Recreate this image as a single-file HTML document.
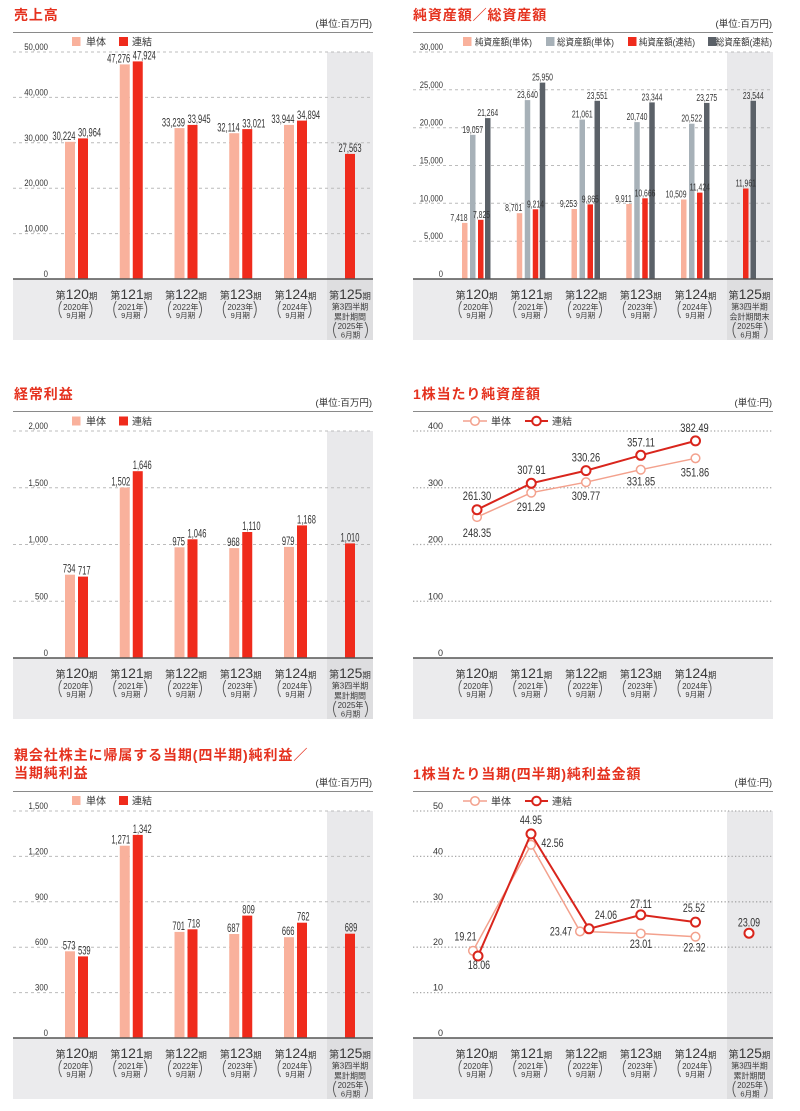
<!DOCTYPE html>
<html><head><meta charset="utf-8"><style>
html,body{margin:0;padding:0;background:#fff}
svg{display:block}
text{font-family:"Liberation Sans","Noto Sans CJK JP",sans-serif}
.ttl{font-size:14px;font-weight:bold;fill:#e5321f;letter-spacing:.9px}
.unit{font-size:9.5px;fill:#333;text-anchor:end}
.lg{font-size:10px;fill:#333}
.lg2{font-size:9.5px;fill:#333}
.tk{font-size:9.5px;fill:#333;text-anchor:end}
.v{font-size:12px;fill:#333}
.v2{font-size:10.5px;fill:#333}
.lv{font-size:11.5px;fill:#333;text-anchor:middle}
.cat{fill:#3a3a3a;text-anchor:middle}
.cs{font-size:8px;fill:#3a3a3a;text-anchor:middle}
.cs2{font-size:7.5px;fill:#3a3a3a;text-anchor:middle}
.par{fill:none;stroke:#555;stroke-width:.9}
.gd line{stroke:#bcbcbc;stroke-width:1;stroke-dasharray:3 3}
.gdot line{stroke:#a8a8a8;stroke-width:1.3;stroke-dasharray:1.3 2.2}
.ax{stroke:#555;stroke-width:1.5}
.rule{stroke:#8a8a8a;stroke-width:1}
.c1{fill:#f9b19c}.c2{fill:#ef2b1c}.c3{fill:#a7b1b8}.c4{fill:#5b6168}
.l1{fill:none;stroke:#f3a18d;stroke-width:1.5}
.l2{fill:none;stroke:#d9251c;stroke-width:2}
.m1{fill:#fff;stroke:#f3a18d;stroke-width:1.5}
.m2{fill:#fff;stroke:#d9251c;stroke-width:2}
</style></head><body>
<svg width="800" height="1111" viewBox="0 0 800 1111" xmlns="http://www.w3.org/2000/svg">

<!-- ================= CHART 1 ================= -->
<text class="ttl" x="14" y="20">売上高</text>
<text class="unit" x="372" y="27">(単位:百万円)</text>
<line class="rule" x1="13" y1="32.5" x2="373" y2="32.5"/>
<rect class="c1" x="72" y="37" width="8.5" height="9"/><text class="lg" x="86" y="45.5">単体</text>
<rect class="c2" x="119" y="37" width="9" height="9"/><text class="lg" x="132" y="45.5">連結</text>
<rect x="327" y="52" width="46" height="227" fill="#e9e9eb"/>
<rect x="13" y="279" width="314" height="61" fill="#ebebed"/>
<rect x="327" y="279" width="46" height="61" fill="#dedee0"/>
<g class="gd">
<line x1="13" y1="52" x2="373" y2="52"/><line x1="13" y1="97.4" x2="373" y2="97.4"/><line x1="13" y1="142.8" x2="373" y2="142.8"/><line x1="13" y1="188.2" x2="373" y2="188.2"/><line x1="13" y1="233.6" x2="373" y2="233.6"/>
</g>
<text class="tk" transform="translate(48 50) scale(.82 1)">50,000</text>
<text class="tk" transform="translate(48 95.4) scale(.82 1)">40,000</text>
<text class="tk" transform="translate(48 140.8) scale(.82 1)">30,000</text>
<text class="tk" transform="translate(48 186.2) scale(.82 1)">20,000</text>
<text class="tk" transform="translate(48 231.6) scale(.82 1)">10,000</text>
<text class="tk" transform="translate(48 277) scale(.82 1)">0</text>
<rect class="c1" x="65" y="141.8" width="10" height="137.2"/><rect class="c2" x="78" y="138.4" width="10" height="140.6"/>
<rect class="c1" x="119.75" y="64.4" width="10" height="214.6"/><rect class="c2" x="132.75" y="61.4" width="10" height="217.6"/>
<rect class="c1" x="174.5" y="128.1" width="10" height="150.9"/><rect class="c2" x="187.5" y="124.9" width="10" height="154.1"/>
<rect class="c1" x="229.25" y="133.2" width="10" height="145.8"/><rect class="c2" x="242.25" y="129.1" width="10" height="149.9"/>
<rect class="c1" x="284" y="124.9" width="10" height="154.1"/><rect class="c2" x="297" y="120.6" width="10" height="158.4"/>
<rect class="c2" x="345" y="153.9" width="10" height="125.1"/>
<text class="v" text-anchor="end" transform="translate(75.5 140) scale(.63 1)">30,224</text>
<text class="v" transform="translate(78 136.6) scale(.63 1)">30,964</text>
<text class="v" text-anchor="end" transform="translate(130.25 62.4) scale(.63 1)">47,276</text>
<text class="v" transform="translate(132.75 59.4) scale(.63 1)">47,924</text>
<text class="v" text-anchor="end" transform="translate(185 126.3) scale(.63 1)">33,239</text>
<text class="v" transform="translate(187.5 123.1) scale(.63 1)">33,945</text>
<text class="v" text-anchor="end" transform="translate(239.75 131.4) scale(.63 1)">32,114</text>
<text class="v" transform="translate(242.25 127.3) scale(.63 1)">33,021</text>
<text class="v" text-anchor="end" transform="translate(294.5 123.1) scale(.63 1)">33,944</text>
<text class="v" transform="translate(297 118.8) scale(.63 1)">34,894</text>
<text class="v" text-anchor="middle" transform="translate(350 152.1) scale(.63 1)">27,563</text>
<line class="ax" x1="13" y1="279" x2="373" y2="279"/>

<!-- categories chart1 -->
<g>
<text class="cat" x="76.5" y="299"><tspan font-size="10">第</tspan><tspan font-size="14">120</tspan><tspan font-size="8.5">期</tspan></text><text class="cs" x="76" y="310">2020年</text><text class="cs2" x="76" y="318">9月期</text><path class="par" d="M61.5 301Q56.5 309.5 61.5 318M89.5 301Q94.5 309.5 89.5 318"/>
<text class="cat" x="131.25" y="299"><tspan font-size="10">第</tspan><tspan font-size="14">121</tspan><tspan font-size="8.5">期</tspan></text><text class="cs" x="130.75" y="310">2021年</text><text class="cs2" x="130.75" y="318">9月期</text><path class="par" d="M116.25 301Q111.25 309.5 116.25 318M144.25 301Q149.25 309.5 144.25 318"/>
<text class="cat" x="186" y="299"><tspan font-size="10">第</tspan><tspan font-size="14">122</tspan><tspan font-size="8.5">期</tspan></text><text class="cs" x="185.5" y="310">2022年</text><text class="cs2" x="185.5" y="318">9月期</text><path class="par" d="M171 301Q166 309.5 171 318M199 301Q204 309.5 199 318"/>
<text class="cat" x="240.75" y="299"><tspan font-size="10">第</tspan><tspan font-size="14">123</tspan><tspan font-size="8.5">期</tspan></text><text class="cs" x="240.25" y="310">2023年</text><text class="cs2" x="240.25" y="318">9月期</text><path class="par" d="M225.75 301Q220.75 309.5 225.75 318M253.75 301Q258.75 309.5 253.75 318"/>
<text class="cat" x="295.5" y="299"><tspan font-size="10">第</tspan><tspan font-size="14">124</tspan><tspan font-size="8.5">期</tspan></text><text class="cs" x="295" y="310">2024年</text><text class="cs2" x="295" y="318">9月期</text><path class="par" d="M280.5 301Q275.5 309.5 280.5 318M308.5 301Q313.5 309.5 308.5 318"/>
<text class="cat" x="350" y="299"><tspan font-size="10">第</tspan><tspan font-size="14">125</tspan><tspan font-size="8.5">期</tspan></text>
<text class="cs" x="350" y="309.5">第3四半期</text><text class="cs" x="350" y="319.5">累計期間</text><text class="cs" x="350.5" y="329">2025年</text><text class="cs2" x="350.5" y="337.5">6月期</text>
<path class="par" d="M336 322Q331 330 336 338M365 322Q370 330 365 338"/>
</g>

<!-- ================= CHART 2 ================= -->
<text class="ttl" x="413" y="20">純資産額／総資産額</text>
<text class="unit" x="772" y="27">(単位:百万円)</text>
<line class="rule" x1="413" y1="32.5" x2="773" y2="32.5"/>
<rect class="c1" x="463" y="37" width="8.5" height="9"/><text class="lg2" x="475" y="45.5" textLength="57" lengthAdjust="spacingAndGlyphs">純資産額(単体)</text>
<rect class="c3" x="546" y="37" width="8.5" height="9"/><text class="lg2" x="557" y="45.5" textLength="57" lengthAdjust="spacingAndGlyphs">総資産額(単体)</text>
<rect class="c2" x="628" y="37" width="8.5" height="9"/><text class="lg2" x="639" y="45.5" textLength="56" lengthAdjust="spacingAndGlyphs">純資産額(連結)</text>
<rect class="c4" x="708" y="37" width="8.5" height="9"/><text class="lg2" x="716" y="45.5" textLength="56" lengthAdjust="spacingAndGlyphs">総資産額(連結)</text>
<rect x="727" y="52" width="46" height="227" fill="#e9e9eb"/>
<rect x="413" y="279" width="314" height="61" fill="#ebebed"/>
<rect x="727" y="279" width="46" height="61" fill="#dedee0"/>
<g class="gd">
<line x1="413" y1="52" x2="773" y2="52"/><line x1="413" y1="89.8" x2="773" y2="89.8"/><line x1="413" y1="127.7" x2="773" y2="127.7"/><line x1="413" y1="165.5" x2="773" y2="165.5"/><line x1="413" y1="203.3" x2="773" y2="203.3"/><line x1="413" y1="241.2" x2="773" y2="241.2"/>
</g>
<text class="tk" transform="translate(443 50) scale(.8 1)">30,000</text>
<text class="tk" transform="translate(443 87.8) scale(.8 1)">25,000</text>
<text class="tk" transform="translate(443 125.7) scale(.8 1)">20,000</text>
<text class="tk" transform="translate(443 163.5) scale(.8 1)">15,000</text>
<text class="tk" transform="translate(443 201.3) scale(.8 1)">10,000</text>
<text class="tk" transform="translate(443 239.2) scale(.8 1)">5,000</text>
<text class="tk" transform="translate(443 277) scale(.8 1)">0</text>
<!-- g1 -->
<rect class="c1" x="462" y="222.9" width="5.5" height="56.1"/><rect class="c3" x="470" y="134.8" width="5.5" height="144.2"/><rect class="c2" x="478" y="219.8" width="5.5" height="59.2"/><rect class="c4" x="485" y="118.1" width="5.5" height="160.9"/>
<!-- g2 -->
<rect class="c1" x="516.75" y="213.2" width="5.5" height="65.8"/><rect class="c3" x="524.75" y="100.1" width="5.5" height="178.9"/><rect class="c2" x="532.75" y="209.3" width="5.5" height="69.7"/><rect class="c4" x="539.75" y="82.6" width="5.5" height="196.4"/>
<!-- g3 -->
<rect class="c1" x="571.5" y="209" width="5.5" height="70"/><rect class="c3" x="579.5" y="119.6" width="5.5" height="159.4"/><rect class="c2" x="587.5" y="204.4" width="5.5" height="74.6"/><rect class="c4" x="594.5" y="100.8" width="5.5" height="178.2"/>
<!-- g4 -->
<rect class="c1" x="626.25" y="204" width="5.5" height="75"/><rect class="c3" x="634.25" y="122.1" width="5.5" height="156.9"/><rect class="c2" x="642.25" y="198.3" width="5.5" height="80.7"/><rect class="c4" x="649.25" y="102.4" width="5.5" height="176.6"/>
<!-- g5 -->
<rect class="c1" x="681" y="199.5" width="5.5" height="79.5"/><rect class="c3" x="689" y="123.7" width="5.5" height="155.3"/><rect class="c2" x="697" y="192.6" width="5.5" height="86.4"/><rect class="c4" x="704" y="102.9" width="5.5" height="176.1"/>
<!-- g6 -->
<rect class="c2" x="743" y="188.5" width="5.5" height="90.5"/><rect class="c4" x="750.5" y="100.8" width="5.5" height="178.2"/>
<!-- labels -->
<text class="v2" text-anchor="end" transform="translate(467.5 220.9) scale(.65 1)">7,418</text>
<text class="v2" text-anchor="end" transform="translate(522.25 211.2) scale(.65 1)">8,701</text>
<text class="v2" text-anchor="end" transform="translate(577 207) scale(.65 1)">9,253</text>
<text class="v2" text-anchor="end" transform="translate(631.75 202) scale(.65 1)">9,911</text>
<text class="v2" text-anchor="end" transform="translate(686.5 197.5) scale(.65 1)">10,509</text>
<text class="v2" text-anchor="middle" transform="translate(472.75 132.8) scale(.65 1)">19,057</text>
<text class="v2" text-anchor="middle" transform="translate(527.5 98.1) scale(.65 1)">23,640</text>
<text class="v2" text-anchor="middle" transform="translate(582.25 117.6) scale(.65 1)">21,061</text>
<text class="v2" text-anchor="middle" transform="translate(637 120.1) scale(.65 1)">20,740</text>
<text class="v2" text-anchor="middle" transform="translate(691.75 121.7) scale(.65 1)">20,522</text>
<text class="v2" text-anchor="middle" transform="translate(481.5 217.8) scale(.65 1)">7,825</text>
<text class="v2" text-anchor="middle" transform="translate(535.5 207.3) scale(.65 1)">9,214</text>
<text class="v2" text-anchor="middle" transform="translate(590.25 202.4) scale(.65 1)">9,865</text>
<text class="v2" text-anchor="middle" transform="translate(645 196.3) scale(.65 1)">10,666</text>
<text class="v2" text-anchor="middle" transform="translate(699.75 190.6) scale(.65 1)">11,424</text>
<text class="v2" text-anchor="middle" transform="translate(745.75 186.5) scale(.65 1)">11,961</text>
<text class="v2" text-anchor="middle" transform="translate(487.75 116.1) scale(.65 1)">21,264</text>
<text class="v2" text-anchor="middle" transform="translate(542.5 80.6) scale(.65 1)">25,950</text>
<text class="v2" text-anchor="middle" transform="translate(597.25 98.8) scale(.65 1)">23,551</text>
<text class="v2" text-anchor="middle" transform="translate(652 100.4) scale(.65 1)">23,344</text>
<text class="v2" text-anchor="middle" transform="translate(706.75 100.9) scale(.65 1)">23,275</text>
<text class="v2" text-anchor="middle" transform="translate(753.25 98.8) scale(.65 1)">23,544</text>
<line class="ax" x1="413" y1="279" x2="773" y2="279"/>
<!-- categories chart2 -->
<g transform="translate(400 0)">
<text class="cat" x="76.5" y="299"><tspan font-size="10">第</tspan><tspan font-size="14">120</tspan><tspan font-size="8.5">期</tspan></text><text class="cs" x="76" y="310">2020年</text><text class="cs2" x="76" y="318">9月期</text><path class="par" d="M61.5 301Q56.5 309.5 61.5 318M89.5 301Q94.5 309.5 89.5 318"/>
<text class="cat" x="131.25" y="299"><tspan font-size="10">第</tspan><tspan font-size="14">121</tspan><tspan font-size="8.5">期</tspan></text><text class="cs" x="130.75" y="310">2021年</text><text class="cs2" x="130.75" y="318">9月期</text><path class="par" d="M116.25 301Q111.25 309.5 116.25 318M144.25 301Q149.25 309.5 144.25 318"/>
<text class="cat" x="186" y="299"><tspan font-size="10">第</tspan><tspan font-size="14">122</tspan><tspan font-size="8.5">期</tspan></text><text class="cs" x="185.5" y="310">2022年</text><text class="cs2" x="185.5" y="318">9月期</text><path class="par" d="M171 301Q166 309.5 171 318M199 301Q204 309.5 199 318"/>
<text class="cat" x="240.75" y="299"><tspan font-size="10">第</tspan><tspan font-size="14">123</tspan><tspan font-size="8.5">期</tspan></text><text class="cs" x="240.25" y="310">2023年</text><text class="cs2" x="240.25" y="318">9月期</text><path class="par" d="M225.75 301Q220.75 309.5 225.75 318M253.75 301Q258.75 309.5 253.75 318"/>
<text class="cat" x="295.5" y="299"><tspan font-size="10">第</tspan><tspan font-size="14">124</tspan><tspan font-size="8.5">期</tspan></text><text class="cs" x="295" y="310">2024年</text><text class="cs2" x="295" y="318">9月期</text><path class="par" d="M280.5 301Q275.5 309.5 280.5 318M308.5 301Q313.5 309.5 308.5 318"/>
<text class="cat" x="349.5" y="299"><tspan font-size="10">第</tspan><tspan font-size="14">125</tspan><tspan font-size="8.5">期</tspan></text>
<text class="cs" x="349.5" y="309.5">第3四半期</text><text class="cs" x="349.5" y="319.5">会計期間末</text><text class="cs" x="350" y="329">2025年</text><text class="cs2" x="350" y="337.5">6月期</text>
<path class="par" d="M335.5 322Q330.5 330 335.5 338M364.5 322Q369.5 330 364.5 338"/>
</g>

<!-- ================= CHART 3 ================= -->
<text class="ttl" x="14" y="399">経常利益</text>
<text class="unit" x="372" y="406">(単位:百万円)</text>
<line class="rule" x1="13" y1="411.5" x2="373" y2="411.5"/>
<rect class="c1" x="72" y="416.5" width="8.5" height="9"/><text class="lg" x="86" y="425">単体</text>
<rect class="c2" x="119" y="416.5" width="9" height="9"/><text class="lg" x="132" y="425">連結</text>
<rect x="327" y="431" width="46" height="227" fill="#e9e9eb"/>
<rect x="13" y="658" width="314" height="61" fill="#ebebed"/>
<rect x="327" y="658" width="46" height="61" fill="#dedee0"/>
<g class="gd">
<line x1="13" y1="431" x2="373" y2="431"/><line x1="13" y1="487.75" x2="373" y2="487.75"/><line x1="13" y1="544.5" x2="373" y2="544.5"/><line x1="13" y1="601.25" x2="373" y2="601.25"/>
</g>
<text class="tk" transform="translate(48 429) scale(.82 1)">2,000</text>
<text class="tk" transform="translate(48 485.75) scale(.82 1)">1,500</text>
<text class="tk" transform="translate(48 542.5) scale(.82 1)">1,000</text>
<text class="tk" transform="translate(48 599.25) scale(.82 1)">500</text>
<text class="tk" transform="translate(48 656) scale(.82 1)">0</text>
<rect class="c1" x="65" y="574.7" width="10" height="83.3"/><rect class="c2" x="78" y="576.6" width="10" height="81.4"/>
<rect class="c1" x="119.75" y="487.5" width="10" height="170.5"/><rect class="c2" x="132.75" y="471.2" width="10" height="186.8"/>
<rect class="c1" x="174.5" y="547.3" width="10" height="110.7"/><rect class="c2" x="187.5" y="539.3" width="10" height="118.7"/>
<rect class="c1" x="229.25" y="548.1" width="10" height="109.9"/><rect class="c2" x="242.25" y="532" width="10" height="126"/>
<rect class="c1" x="284" y="546.9" width="10" height="111.1"/><rect class="c2" x="297" y="525.4" width="10" height="132.6"/>
<rect class="c2" x="345" y="543.4" width="10" height="114.6"/>
<text class="v" text-anchor="end" transform="translate(75.5 572.7) scale(.63 1)">734</text>
<text class="v" transform="translate(78 574.6) scale(.63 1)">717</text>
<text class="v" text-anchor="end" transform="translate(130.25 485.5) scale(.63 1)">1,502</text>
<text class="v" transform="translate(132.75 469.2) scale(.63 1)">1,646</text>
<text class="v" text-anchor="end" transform="translate(185 545.3) scale(.63 1)">975</text>
<text class="v" transform="translate(187.5 537.3) scale(.63 1)">1,046</text>
<text class="v" text-anchor="end" transform="translate(239.75 546.1) scale(.63 1)">968</text>
<text class="v" transform="translate(242.25 530) scale(.63 1)">1,110</text>
<text class="v" text-anchor="end" transform="translate(294.5 544.9) scale(.63 1)">979</text>
<text class="v" transform="translate(297 523.4) scale(.63 1)">1,168</text>
<text class="v" text-anchor="middle" transform="translate(350 541.4) scale(.63 1)">1,010</text>
<line class="ax" x1="13" y1="658" x2="373" y2="658"/>
<g transform="translate(0 379)">
<text class="cat" x="76.5" y="299"><tspan font-size="10">第</tspan><tspan font-size="14">120</tspan><tspan font-size="8.5">期</tspan></text><text class="cs" x="76" y="310">2020年</text><text class="cs2" x="76" y="318">9月期</text><path class="par" d="M61.5 301Q56.5 309.5 61.5 318M89.5 301Q94.5 309.5 89.5 318"/>
<text class="cat" x="131.25" y="299"><tspan font-size="10">第</tspan><tspan font-size="14">121</tspan><tspan font-size="8.5">期</tspan></text><text class="cs" x="130.75" y="310">2021年</text><text class="cs2" x="130.75" y="318">9月期</text><path class="par" d="M116.25 301Q111.25 309.5 116.25 318M144.25 301Q149.25 309.5 144.25 318"/>
<text class="cat" x="186" y="299"><tspan font-size="10">第</tspan><tspan font-size="14">122</tspan><tspan font-size="8.5">期</tspan></text><text class="cs" x="185.5" y="310">2022年</text><text class="cs2" x="185.5" y="318">9月期</text><path class="par" d="M171 301Q166 309.5 171 318M199 301Q204 309.5 199 318"/>
<text class="cat" x="240.75" y="299"><tspan font-size="10">第</tspan><tspan font-size="14">123</tspan><tspan font-size="8.5">期</tspan></text><text class="cs" x="240.25" y="310">2023年</text><text class="cs2" x="240.25" y="318">9月期</text><path class="par" d="M225.75 301Q220.75 309.5 225.75 318M253.75 301Q258.75 309.5 253.75 318"/>
<text class="cat" x="295.5" y="299"><tspan font-size="10">第</tspan><tspan font-size="14">124</tspan><tspan font-size="8.5">期</tspan></text><text class="cs" x="295" y="310">2024年</text><text class="cs2" x="295" y="318">9月期</text><path class="par" d="M280.5 301Q275.5 309.5 280.5 318M308.5 301Q313.5 309.5 308.5 318"/>
<text class="cat" x="350" y="299"><tspan font-size="10">第</tspan><tspan font-size="14">125</tspan><tspan font-size="8.5">期</tspan></text>
<text class="cs" x="350" y="309.5">第3四半期</text><text class="cs" x="350" y="319.5">累計期間</text><text class="cs" x="350.5" y="329">2025年</text><text class="cs2" x="350.5" y="337.5">6月期</text>
<path class="par" d="M336 322Q331 330 336 338M365 322Q370 330 365 338"/>
</g>

<!-- ================= CHART 4 ================= -->
<text class="ttl" x="413" y="399">1株当たり純資産額</text>
<text class="unit" x="772" y="406">(単位:円)</text>
<line class="rule" x1="413" y1="411.5" x2="773" y2="411.5"/>
<line class="l1" x1="463" y1="421" x2="487" y2="421"/><circle class="m1" cx="475" cy="421" r="4.3"/><text class="lg" x="491" y="425">単体</text>
<line class="l2" x1="525" y1="421" x2="548" y2="421"/><circle class="m2" cx="536.5" cy="421" r="4.3"/><text class="lg" x="552" y="425">連結</text>
<rect x="413" y="658" width="360" height="61" fill="#ebebed"/>
<g class="gdot">
<line x1="413" y1="431" x2="773" y2="431"/><line x1="413" y1="487.75" x2="773" y2="487.75"/><line x1="413" y1="544.5" x2="773" y2="544.5"/><line x1="413" y1="601.25" x2="773" y2="601.25"/>
</g>
<text class="tk" transform="translate(443 429) scale(.95 1)">400</text>
<text class="tk" transform="translate(443 485.75) scale(.95 1)">300</text>
<text class="tk" transform="translate(443 542.5) scale(.95 1)">200</text>
<text class="tk" transform="translate(443 599.25) scale(.95 1)">100</text>
<text class="tk" transform="translate(443 656) scale(.95 1)">0</text>
<polyline class="l1" points="477,517.1 531.25,492.7 586,482.2 640.75,469.7 695.5,458.3"/>
<circle class="m1" cx="477" cy="517.1" r="4.3"/><circle class="m1" cx="531.25" cy="492.7" r="4.3"/><circle class="m1" cx="586" cy="482.2" r="4.3"/><circle class="m1" cx="640.75" cy="469.7" r="4.3"/><circle class="m1" cx="695.5" cy="458.3" r="4.3"/>
<polyline class="l2" points="477,509.7 531.25,483.3 586,470.6 640.75,455.3 695.5,440.9"/>
<circle class="m2" cx="477" cy="509.7" r="4.5"/><circle class="m2" cx="531.25" cy="483.3" r="4.5"/><circle class="m2" cx="586" cy="470.6" r="4.5"/><circle class="m2" cx="640.75" cy="455.3" r="4.5"/><circle class="m2" cx="695.5" cy="440.9" r="4.5"/>
<text class="lv" transform="translate(477 500) scale(.81 1)">261.30</text>
<text class="lv" transform="translate(477 537) scale(.81 1)">248.35</text>
<text class="lv" transform="translate(531.5 474) scale(.81 1)">307.91</text>
<text class="lv" transform="translate(531 511) scale(.81 1)">291.29</text>
<text class="lv" transform="translate(586 461.5) scale(.81 1)">330.26</text>
<text class="lv" transform="translate(586 500) scale(.81 1)">309.77</text>
<text class="lv" transform="translate(641 446.5) scale(.81 1)">357.11</text>
<text class="lv" transform="translate(641 485.5) scale(.81 1)">331.85</text>
<text class="lv" transform="translate(694.5 432) scale(.81 1)">382.49</text>
<text class="lv" transform="translate(695 476.5) scale(.81 1)">351.86</text>
<line class="ax" x1="413" y1="658" x2="773" y2="658"/>
<g transform="translate(400 379)">
<text class="cat" x="76.5" y="299"><tspan font-size="10">第</tspan><tspan font-size="14">120</tspan><tspan font-size="8.5">期</tspan></text><text class="cs" x="76" y="310">2020年</text><text class="cs2" x="76" y="318">9月期</text><path class="par" d="M61.5 301Q56.5 309.5 61.5 318M89.5 301Q94.5 309.5 89.5 318"/>
<text class="cat" x="131.25" y="299"><tspan font-size="10">第</tspan><tspan font-size="14">121</tspan><tspan font-size="8.5">期</tspan></text><text class="cs" x="130.75" y="310">2021年</text><text class="cs2" x="130.75" y="318">9月期</text><path class="par" d="M116.25 301Q111.25 309.5 116.25 318M144.25 301Q149.25 309.5 144.25 318"/>
<text class="cat" x="186" y="299"><tspan font-size="10">第</tspan><tspan font-size="14">122</tspan><tspan font-size="8.5">期</tspan></text><text class="cs" x="185.5" y="310">2022年</text><text class="cs2" x="185.5" y="318">9月期</text><path class="par" d="M171 301Q166 309.5 171 318M199 301Q204 309.5 199 318"/>
<text class="cat" x="240.75" y="299"><tspan font-size="10">第</tspan><tspan font-size="14">123</tspan><tspan font-size="8.5">期</tspan></text><text class="cs" x="240.25" y="310">2023年</text><text class="cs2" x="240.25" y="318">9月期</text><path class="par" d="M225.75 301Q220.75 309.5 225.75 318M253.75 301Q258.75 309.5 253.75 318"/>
<text class="cat" x="295.5" y="299"><tspan font-size="10">第</tspan><tspan font-size="14">124</tspan><tspan font-size="8.5">期</tspan></text><text class="cs" x="295" y="310">2024年</text><text class="cs2" x="295" y="318">9月期</text><path class="par" d="M280.5 301Q275.5 309.5 280.5 318M308.5 301Q313.5 309.5 308.5 318"/>
</g>

<!-- ================= CHART 5 ================= -->
<text class="ttl" x="14" y="760">親会社株主に帰属する当期(四半期)純利益／</text>
<text class="ttl" x="14" y="778">当期純利益</text>
<text class="unit" x="372" y="786">(単位:百万円)</text>
<line class="rule" x1="13" y1="791.5" x2="373" y2="791.5"/>
<rect class="c1" x="72" y="796" width="8.5" height="9"/><text class="lg" x="86" y="804.5">単体</text>
<rect class="c2" x="119" y="796" width="9" height="9"/><text class="lg" x="132" y="804.5">連結</text>
<rect x="327" y="811" width="46" height="227" fill="#e9e9eb"/>
<rect x="13" y="1038" width="314" height="61" fill="#ebebed"/>
<rect x="327" y="1038" width="46" height="61" fill="#dedee0"/>
<g class="gd">
<line x1="13" y1="811" x2="373" y2="811"/><line x1="13" y1="856.4" x2="373" y2="856.4"/><line x1="13" y1="901.8" x2="373" y2="901.8"/><line x1="13" y1="947.2" x2="373" y2="947.2"/><line x1="13" y1="992.6" x2="373" y2="992.6"/>
</g>
<text class="tk" transform="translate(48 809) scale(.82 1)">1,500</text>
<text class="tk" transform="translate(48 854.4) scale(.82 1)">1,200</text>
<text class="tk" transform="translate(48 899.8) scale(.82 1)">900</text>
<text class="tk" transform="translate(48 945.2) scale(.82 1)">600</text>
<text class="tk" transform="translate(48 990.6) scale(.82 1)">300</text>
<text class="tk" transform="translate(48 1036) scale(.82 1)">0</text>
<rect class="c1" x="65" y="951.3" width="10" height="86.7"/><rect class="c2" x="78" y="956.4" width="10" height="81.6"/>
<rect class="c1" x="119.75" y="845.7" width="10" height="192.3"/><rect class="c2" x="132.75" y="834.9" width="10" height="203.1"/>
<rect class="c1" x="174.5" y="931.9" width="10" height="106.1"/><rect class="c2" x="187.5" y="929.3" width="10" height="108.7"/>
<rect class="c1" x="229.25" y="934" width="10" height="104"/><rect class="c2" x="242.25" y="915.6" width="10" height="122.4"/>
<rect class="c1" x="284" y="937.2" width="10" height="100.8"/><rect class="c2" x="297" y="922.7" width="10" height="115.3"/>
<rect class="c2" x="345" y="933.7" width="10" height="104.3"/>
<text class="v" text-anchor="end" transform="translate(75.5 949.3) scale(.63 1)">573</text>
<text class="v" transform="translate(78 954.4) scale(.63 1)">539</text>
<text class="v" text-anchor="end" transform="translate(130.25 843.7) scale(.63 1)">1,271</text>
<text class="v" transform="translate(132.75 832.9) scale(.63 1)">1,342</text>
<text class="v" text-anchor="end" transform="translate(185 929.9) scale(.63 1)">701</text>
<text class="v" transform="translate(187.5 927.3) scale(.63 1)">718</text>
<text class="v" text-anchor="end" transform="translate(239.75 932) scale(.63 1)">687</text>
<text class="v" transform="translate(242.25 913.6) scale(.63 1)">809</text>
<text class="v" text-anchor="end" transform="translate(294.5 935.2) scale(.63 1)">666</text>
<text class="v" transform="translate(297 920.7) scale(.63 1)">762</text>
<text class="v" text-anchor="middle" transform="translate(351 931.7) scale(.63 1)">689</text>
<line class="ax" x1="13" y1="1038" x2="373" y2="1038"/>
<g transform="translate(0 759)">
<text class="cat" x="76.5" y="299"><tspan font-size="10">第</tspan><tspan font-size="14">120</tspan><tspan font-size="8.5">期</tspan></text><text class="cs" x="76" y="310">2020年</text><text class="cs2" x="76" y="318">9月期</text><path class="par" d="M61.5 301Q56.5 309.5 61.5 318M89.5 301Q94.5 309.5 89.5 318"/>
<text class="cat" x="131.25" y="299"><tspan font-size="10">第</tspan><tspan font-size="14">121</tspan><tspan font-size="8.5">期</tspan></text><text class="cs" x="130.75" y="310">2021年</text><text class="cs2" x="130.75" y="318">9月期</text><path class="par" d="M116.25 301Q111.25 309.5 116.25 318M144.25 301Q149.25 309.5 144.25 318"/>
<text class="cat" x="186" y="299"><tspan font-size="10">第</tspan><tspan font-size="14">122</tspan><tspan font-size="8.5">期</tspan></text><text class="cs" x="185.5" y="310">2022年</text><text class="cs2" x="185.5" y="318">9月期</text><path class="par" d="M171 301Q166 309.5 171 318M199 301Q204 309.5 199 318"/>
<text class="cat" x="240.75" y="299"><tspan font-size="10">第</tspan><tspan font-size="14">123</tspan><tspan font-size="8.5">期</tspan></text><text class="cs" x="240.25" y="310">2023年</text><text class="cs2" x="240.25" y="318">9月期</text><path class="par" d="M225.75 301Q220.75 309.5 225.75 318M253.75 301Q258.75 309.5 253.75 318"/>
<text class="cat" x="295.5" y="299"><tspan font-size="10">第</tspan><tspan font-size="14">124</tspan><tspan font-size="8.5">期</tspan></text><text class="cs" x="295" y="310">2024年</text><text class="cs2" x="295" y="318">9月期</text><path class="par" d="M280.5 301Q275.5 309.5 280.5 318M308.5 301Q313.5 309.5 308.5 318"/>
<text class="cat" x="350" y="299"><tspan font-size="10">第</tspan><tspan font-size="14">125</tspan><tspan font-size="8.5">期</tspan></text>
<text class="cs" x="350" y="309.5">第3四半期</text><text class="cs" x="350" y="319.5">累計期間</text><text class="cs" x="350.5" y="329">2025年</text><text class="cs2" x="350.5" y="337.5">6月期</text>
<path class="par" d="M336 322Q331 330 336 338M365 322Q370 330 365 338"/>
</g>

<!-- ================= CHART 6 ================= -->
<text class="ttl" x="413" y="779">1株当たり当期(四半期)純利益金額</text>
<text class="unit" x="772" y="786">(単位:円)</text>
<line class="rule" x1="413" y1="791.5" x2="773" y2="791.5"/>
<line class="l1" x1="463" y1="801" x2="487" y2="801"/><circle class="m1" cx="475" cy="801" r="4.3"/><text class="lg" x="491" y="805">単体</text>
<line class="l2" x1="525" y1="801" x2="548" y2="801"/><circle class="m2" cx="536.5" cy="801" r="4.3"/><text class="lg" x="552" y="805">連結</text>
<rect x="727" y="811" width="46" height="227" fill="#e9e9eb"/>
<rect x="413" y="1038" width="314" height="61" fill="#ebebed"/>
<rect x="727" y="1038" width="46" height="61" fill="#dedee0"/>
<g class="gdot">
<line x1="413" y1="811" x2="773" y2="811"/><line x1="413" y1="856.4" x2="773" y2="856.4"/><line x1="413" y1="901.8" x2="773" y2="901.8"/><line x1="413" y1="947.2" x2="773" y2="947.2"/><line x1="413" y1="992.6" x2="773" y2="992.6"/>
</g>
<text class="tk" transform="translate(443 809) scale(.95 1)">50</text>
<text class="tk" transform="translate(443 854.4) scale(.95 1)">40</text>
<text class="tk" transform="translate(443 899.8) scale(.95 1)">30</text>
<text class="tk" transform="translate(443 945.2) scale(.95 1)">20</text>
<text class="tk" transform="translate(443 990.6) scale(.95 1)">10</text>
<text class="tk" transform="translate(443 1036) scale(.95 1)">0</text>
<polyline class="l1" points="473,950.8 531,844.8 580,931.4 640.75,933.5 695.5,936.7"/>
<circle class="m1" cx="473" cy="950.8" r="4.3"/><circle class="m1" cx="531" cy="844.8" r="4.3"/><circle class="m1" cx="580" cy="931.4" r="4.3"/><circle class="m1" cx="640.75" cy="933.5" r="4.3"/><circle class="m1" cx="695.5" cy="936.7" r="4.3"/>
<polyline class="l2" points="478,956 531,833.9 589,928.8 640.75,914.9 695.5,922.1"/>
<circle class="m2" cx="478" cy="956" r="4.5"/><circle class="m2" cx="531" cy="833.9" r="4.5"/><circle class="m2" cx="589" cy="928.8" r="4.5"/><circle class="m2" cx="640.75" cy="914.9" r="4.5"/><circle class="m2" cx="695.5" cy="922.1" r="4.5"/>
<circle class="m2" cx="749" cy="933.2" r="4.5"/>
<text class="lv" transform="translate(465.5 940.5) scale(.77 1)">19.21</text>
<text class="lv" transform="translate(479 969) scale(.77 1)">18.06</text>
<text class="lv" transform="translate(531 824) scale(.77 1)">44.95</text>
<text class="lv" transform="translate(552.5 847) scale(.77 1)">42.56</text>
<text class="lv" transform="translate(561 935.5) scale(.77 1)">23.47</text>
<text class="lv" transform="translate(606 919) scale(.77 1)">24.06</text>
<text class="lv" transform="translate(641 908) scale(.77 1)">27.11</text>
<text class="lv" transform="translate(641 948) scale(.77 1)">23.01</text>
<text class="lv" transform="translate(694 912) scale(.77 1)">25.52</text>
<text class="lv" transform="translate(694.5 951.5) scale(.77 1)">22.32</text>
<text class="lv" transform="translate(749 926.5) scale(.77 1)">23.09</text>
<line class="ax" x1="413" y1="1038" x2="773" y2="1038"/>
<g transform="translate(400 759)">
<text class="cat" x="76.5" y="299"><tspan font-size="10">第</tspan><tspan font-size="14">120</tspan><tspan font-size="8.5">期</tspan></text><text class="cs" x="76" y="310">2020年</text><text class="cs2" x="76" y="318">9月期</text><path class="par" d="M61.5 301Q56.5 309.5 61.5 318M89.5 301Q94.5 309.5 89.5 318"/>
<text class="cat" x="131.25" y="299"><tspan font-size="10">第</tspan><tspan font-size="14">121</tspan><tspan font-size="8.5">期</tspan></text><text class="cs" x="130.75" y="310">2021年</text><text class="cs2" x="130.75" y="318">9月期</text><path class="par" d="M116.25 301Q111.25 309.5 116.25 318M144.25 301Q149.25 309.5 144.25 318"/>
<text class="cat" x="186" y="299"><tspan font-size="10">第</tspan><tspan font-size="14">122</tspan><tspan font-size="8.5">期</tspan></text><text class="cs" x="185.5" y="310">2022年</text><text class="cs2" x="185.5" y="318">9月期</text><path class="par" d="M171 301Q166 309.5 171 318M199 301Q204 309.5 199 318"/>
<text class="cat" x="240.75" y="299"><tspan font-size="10">第</tspan><tspan font-size="14">123</tspan><tspan font-size="8.5">期</tspan></text><text class="cs" x="240.25" y="310">2023年</text><text class="cs2" x="240.25" y="318">9月期</text><path class="par" d="M225.75 301Q220.75 309.5 225.75 318M253.75 301Q258.75 309.5 253.75 318"/>
<text class="cat" x="295.5" y="299"><tspan font-size="10">第</tspan><tspan font-size="14">124</tspan><tspan font-size="8.5">期</tspan></text><text class="cs" x="295" y="310">2024年</text><text class="cs2" x="295" y="318">9月期</text><path class="par" d="M280.5 301Q275.5 309.5 280.5 318M308.5 301Q313.5 309.5 308.5 318"/>
<text class="cat" x="349.5" y="299"><tspan font-size="10">第</tspan><tspan font-size="14">125</tspan><tspan font-size="8.5">期</tspan></text>
<text class="cs" x="349.5" y="309.5">第3四半期</text><text class="cs" x="349.5" y="319.5">累計期間</text><text class="cs" x="350" y="329">2025年</text><text class="cs2" x="350" y="337.5">6月期</text>
<path class="par" d="M335.5 322Q330.5 330 335.5 338M364.5 322Q369.5 330 364.5 338"/>
</g>

</svg>
</body></html>
